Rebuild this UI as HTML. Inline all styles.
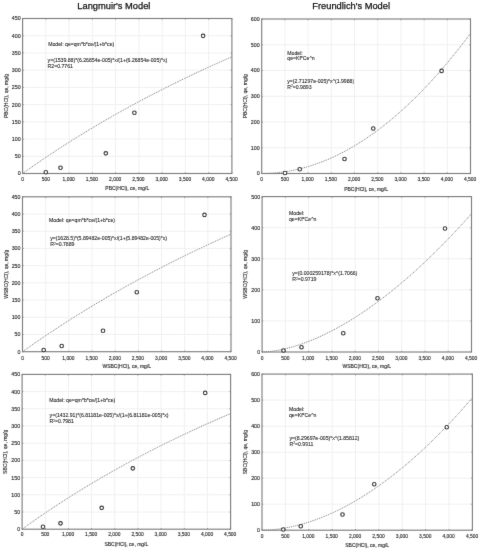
<!DOCTYPE html>
<html><head><meta charset="utf-8"><style>
html,body{margin:0;padding:0;background:#fff;width:481px;height:550px;overflow:hidden}
svg{display:block;filter:grayscale(1)}
.t{stroke:#1e1e1e;stroke-width:0.12px}
</style></head><body>
<svg width="481" height="550" viewBox="0 0 481 550" font-family='"Liberation Sans", sans-serif'>
<defs><filter id="bl" filterUnits="userSpaceOnUse" x="0" y="0" width="481" height="550"><feConvolveMatrix order="3" kernelMatrix="0.0052 0.0619 0.0052 0.0619 0.7314 0.0619 0.0052 0.0619 0.0052" edgeMode="none"/></filter></defs>
<rect width="481" height="550" fill="#fff"/>
<g filter="url(#bl)">
<text x="77.3" y="9.35" font-size="9.3" fill="#111" style="stroke:#111;stroke-width:0.25px">Langmuir's Model</text>
<text x="312.3" y="9.35" font-size="9.3" fill="#111" style="stroke:#111;stroke-width:0.25px">Freundlich's Model</text>
<g stroke="#f0f0f0" stroke-width="1"><line x1="45.86" y1="18.5" x2="45.86" y2="173.5"/><line x1="69.11" y1="18.5" x2="69.11" y2="173.5"/><line x1="92.37" y1="18.5" x2="92.37" y2="173.5"/><line x1="115.62" y1="18.5" x2="115.62" y2="173.5"/><line x1="138.88" y1="18.5" x2="138.88" y2="173.5"/><line x1="162.13" y1="18.5" x2="162.13" y2="173.5"/><line x1="185.39" y1="18.5" x2="185.39" y2="173.5"/><line x1="208.64" y1="18.5" x2="208.64" y2="173.5"/><line x1="22.6" y1="156.28" x2="231.9" y2="156.28"/><line x1="22.6" y1="139.06" x2="231.9" y2="139.06"/><line x1="22.6" y1="121.83" x2="231.9" y2="121.83"/><line x1="22.6" y1="104.61" x2="231.9" y2="104.61"/><line x1="22.6" y1="87.39" x2="231.9" y2="87.39"/><line x1="22.6" y1="70.17" x2="231.9" y2="70.17"/><line x1="22.6" y1="52.94" x2="231.9" y2="52.94"/><line x1="22.6" y1="35.72" x2="231.9" y2="35.72"/></g>
<polyline points="22.6,173.5 24.34,172.26 26.09,171.02 27.83,169.79 29.58,168.56 31.32,167.34 33.06,166.12 34.81,164.91 36.55,163.71 38.3,162.51 40.04,161.32 41.79,160.13 43.53,158.95 45.27,157.77 47.02,156.6 48.76,155.43 50.51,154.27 52.25,153.12 54,151.97 55.74,150.82 57.48,149.68 59.23,148.55 60.97,147.42 62.72,146.29 64.46,145.17 66.2,144.06 67.95,142.95 69.69,141.84 71.44,140.74 73.18,139.65 74.93,138.56 76.67,137.47 78.41,136.39 80.16,135.32 81.9,134.25 83.65,133.18 85.39,132.12 87.13,131.06 88.88,130.01 90.62,128.96 92.37,127.91 94.11,126.87 95.85,125.84 97.6,124.81 99.34,123.78 101.09,122.76 102.83,121.74 104.58,120.73 106.32,119.72 108.06,118.72 109.81,117.72 111.55,116.72 113.3,115.73 115.04,114.74 116.78,113.76 118.53,112.78 120.27,111.8 122.02,110.83 123.76,109.86 125.51,108.9 127.25,107.94 128.99,106.98 130.74,106.03 132.48,105.08 134.23,104.14 135.97,103.2 137.72,102.26 139.46,101.33 141.2,100.4 142.95,99.48 144.69,98.55 146.44,97.64 148.18,96.72 149.92,95.81 151.67,94.91 153.41,94 155.16,93.1 156.9,92.21 158.64,91.32 160.39,90.43 162.13,89.54 163.88,88.66 165.62,87.78 167.37,86.91 169.11,86.04 170.85,85.17 172.6,84.31 174.34,83.44 176.09,82.59 177.83,81.73 179.57,80.88 181.32,80.03 183.06,79.19 184.81,78.35 186.55,77.51 188.3,76.67 190.04,75.84 191.78,75.01 193.53,74.19 195.27,73.37 197.02,72.55 198.76,71.73 200.5,70.92 202.25,70.11 203.99,69.3 205.74,68.5 207.48,67.7 209.23,66.9 210.97,66.11 212.71,65.32 214.46,64.53 216.2,63.74 217.95,62.96 219.69,62.18 221.44,61.4 223.18,60.63 224.92,59.86 226.67,59.09 228.41,58.32 230.16,57.56 231.9,56.8" fill="none" stroke="#6a6a6a" stroke-width="0.9" stroke-dasharray="1 0.95"/>
<rect x="22.6" y="18.5" width="209.3" height="155" fill="none" stroke="#808080" stroke-width="1.15"/>
<g stroke="#808080" stroke-width="0.8"><line x1="22.6" y1="173.5" x2="22.6" y2="172.3"/><line x1="22.6" y1="18.5" x2="22.6" y2="19.7"/><line x1="45.86" y1="173.5" x2="45.86" y2="172.3"/><line x1="45.86" y1="18.5" x2="45.86" y2="19.7"/><line x1="69.11" y1="173.5" x2="69.11" y2="172.3"/><line x1="69.11" y1="18.5" x2="69.11" y2="19.7"/><line x1="92.37" y1="173.5" x2="92.37" y2="172.3"/><line x1="92.37" y1="18.5" x2="92.37" y2="19.7"/><line x1="115.62" y1="173.5" x2="115.62" y2="172.3"/><line x1="115.62" y1="18.5" x2="115.62" y2="19.7"/><line x1="138.88" y1="173.5" x2="138.88" y2="172.3"/><line x1="138.88" y1="18.5" x2="138.88" y2="19.7"/><line x1="162.13" y1="173.5" x2="162.13" y2="172.3"/><line x1="162.13" y1="18.5" x2="162.13" y2="19.7"/><line x1="185.39" y1="173.5" x2="185.39" y2="172.3"/><line x1="185.39" y1="18.5" x2="185.39" y2="19.7"/><line x1="208.64" y1="173.5" x2="208.64" y2="172.3"/><line x1="208.64" y1="18.5" x2="208.64" y2="19.7"/><line x1="231.9" y1="173.5" x2="231.9" y2="172.3"/><line x1="231.9" y1="18.5" x2="231.9" y2="19.7"/><line x1="22.6" y1="173.5" x2="23.8" y2="173.5"/><line x1="231.9" y1="173.5" x2="230.7" y2="173.5"/><line x1="22.6" y1="156.28" x2="23.8" y2="156.28"/><line x1="231.9" y1="156.28" x2="230.7" y2="156.28"/><line x1="22.6" y1="139.06" x2="23.8" y2="139.06"/><line x1="231.9" y1="139.06" x2="230.7" y2="139.06"/><line x1="22.6" y1="121.83" x2="23.8" y2="121.83"/><line x1="231.9" y1="121.83" x2="230.7" y2="121.83"/><line x1="22.6" y1="104.61" x2="23.8" y2="104.61"/><line x1="231.9" y1="104.61" x2="230.7" y2="104.61"/><line x1="22.6" y1="87.39" x2="23.8" y2="87.39"/><line x1="231.9" y1="87.39" x2="230.7" y2="87.39"/><line x1="22.6" y1="70.17" x2="23.8" y2="70.17"/><line x1="231.9" y1="70.17" x2="230.7" y2="70.17"/><line x1="22.6" y1="52.94" x2="23.8" y2="52.94"/><line x1="231.9" y1="52.94" x2="230.7" y2="52.94"/><line x1="22.6" y1="35.72" x2="23.8" y2="35.72"/><line x1="231.9" y1="35.72" x2="230.7" y2="35.72"/><line x1="22.6" y1="18.5" x2="23.8" y2="18.5"/><line x1="231.9" y1="18.5" x2="230.7" y2="18.5"/></g>
<g fill="#fff" stroke="#2a2a2a" stroke-width="1.15"><circle cx="45.8" cy="172.2" r="1.75"/><circle cx="60.5" cy="167.7" r="1.75"/><circle cx="105.8" cy="153.3" r="1.75"/><circle cx="134.4" cy="112.7" r="1.75"/><circle cx="203.1" cy="35.8" r="1.75"/></g>
<g class="t" font-size="5.3" fill="#1e1e1e" text-anchor="end"><text x="20.6" y="175.4">0</text><text x="20.6" y="158.18">50</text><text x="20.6" y="140.96">100</text><text x="20.6" y="123.73">150</text><text x="20.6" y="106.51">200</text><text x="20.6" y="89.29">250</text><text x="20.6" y="72.07">300</text><text x="20.6" y="54.84">350</text><text x="20.6" y="37.62">400</text><text x="20.6" y="20.4">450</text></g>
<g class="t" font-size="4.9" fill="#1e1e1e" text-anchor="middle"><text x="22.6" y="180.6">0</text><text x="45.86" y="180.6">500</text><text x="68.71" y="180.6">1,000</text><text x="91.97" y="180.6">1,500</text><text x="115.22" y="180.6">2,000</text><text x="138.48" y="180.6">2,500</text><text x="161.73" y="180.6">3,000</text><text x="184.99" y="180.6">3,500</text><text x="208.24" y="180.6">4,000</text><text x="231.5" y="180.6">4,500</text></g>
<text x="127.25" y="190.05" class="t" font-size="5" fill="#1e1e1e" text-anchor="middle">PBC(HCl), ce, mg/L</text>
<text transform="translate(7.6,96) rotate(-90)" class="t" font-size="5" fill="#1e1e1e" text-anchor="middle">PBC(HCl), qe, mg/g</text>
<g font-size="5.15" fill="#262626" style="stroke:#262626;stroke-width:0.1px"><text x="48.2" y="46.3">Model: qe=qm*b*ce/(1+b*ce)</text><text x="47.6" y="62.1">y=(1539.88)*(6.26854e-005)*x/(1+(6.26854e-005)*x)</text><text x="47.6" y="67.6">R2=0.7761</text></g>
<g stroke="#f0f0f0" stroke-width="1"><line x1="45.67" y1="196.8" x2="45.67" y2="351.7"/><line x1="68.83" y1="196.8" x2="68.83" y2="351.7"/><line x1="92" y1="196.8" x2="92" y2="351.7"/><line x1="115.17" y1="196.8" x2="115.17" y2="351.7"/><line x1="138.33" y1="196.8" x2="138.33" y2="351.7"/><line x1="161.5" y1="196.8" x2="161.5" y2="351.7"/><line x1="184.67" y1="196.8" x2="184.67" y2="351.7"/><line x1="207.83" y1="196.8" x2="207.83" y2="351.7"/><line x1="22.5" y1="334.49" x2="231" y2="334.49"/><line x1="22.5" y1="317.28" x2="231" y2="317.28"/><line x1="22.5" y1="300.07" x2="231" y2="300.07"/><line x1="22.5" y1="282.86" x2="231" y2="282.86"/><line x1="22.5" y1="265.64" x2="231" y2="265.64"/><line x1="22.5" y1="248.43" x2="231" y2="248.43"/><line x1="22.5" y1="231.22" x2="231" y2="231.22"/><line x1="22.5" y1="214.01" x2="231" y2="214.01"/></g>
<polyline points="22.5,351.7 24.24,350.46 25.98,349.23 27.71,348.01 29.45,346.79 31.19,345.57 32.92,344.36 34.66,343.16 36.4,341.96 38.14,340.77 39.88,339.58 41.61,338.39 43.35,337.21 45.09,336.04 46.83,334.87 48.56,333.71 50.3,332.55 52.04,331.4 53.77,330.25 55.51,329.1 57.25,327.97 58.99,326.83 60.73,325.7 62.46,324.58 64.2,323.46 65.94,322.34 67.67,321.23 69.41,320.13 71.15,319.03 72.89,317.93 74.62,316.84 76.36,315.75 78.1,314.67 79.84,313.59 81.58,312.51 83.31,311.44 85.05,310.38 86.79,309.32 88.53,308.26 90.26,307.21 92,306.16 93.74,305.12 95.47,304.08 97.21,303.04 98.95,302.01 100.69,300.98 102.42,299.96 104.16,298.94 105.9,297.93 107.64,296.92 109.38,295.91 111.11,294.91 112.85,293.91 114.59,292.91 116.33,291.92 118.06,290.93 119.8,289.95 121.54,288.97 123.28,288 125.01,287.02 126.75,286.06 128.49,285.09 130.22,284.13 131.96,283.18 133.7,282.22 135.44,281.27 137.18,280.33 138.91,279.39 140.65,278.45 142.39,277.51 144.12,276.58 145.86,275.65 147.6,274.73 149.34,273.81 151.07,272.89 152.81,271.98 154.55,271.07 156.29,270.16 158.03,269.26 159.76,268.36 161.5,267.46 163.24,266.57 164.97,265.68 166.71,264.79 168.45,263.91 170.19,263.03 171.93,262.16 173.66,261.28 175.4,260.41 177.14,259.55 178.88,258.68 180.61,257.82 182.35,256.96 184.09,256.11 185.82,255.26 187.56,254.41 189.3,253.57 191.04,252.72 192.78,251.89 194.51,251.05 196.25,250.22 197.99,249.39 199.72,248.56 201.46,247.74 203.2,246.92 204.94,246.1 206.68,245.28 208.41,244.47 210.15,243.66 211.89,242.86 213.62,242.05 215.36,241.25 217.1,240.46 218.84,239.66 220.57,238.87 222.31,238.08 224.05,237.29 225.79,236.51 227.53,235.73 229.26,234.95 231,234.18" fill="none" stroke="#6a6a6a" stroke-width="0.9" stroke-dasharray="1 0.95"/>
<rect x="22.5" y="196.8" width="208.5" height="154.9" fill="none" stroke="#808080" stroke-width="1.15"/>
<g stroke="#808080" stroke-width="0.8"><line x1="22.5" y1="351.7" x2="22.5" y2="350.5"/><line x1="22.5" y1="196.8" x2="22.5" y2="198"/><line x1="45.67" y1="351.7" x2="45.67" y2="350.5"/><line x1="45.67" y1="196.8" x2="45.67" y2="198"/><line x1="68.83" y1="351.7" x2="68.83" y2="350.5"/><line x1="68.83" y1="196.8" x2="68.83" y2="198"/><line x1="92" y1="351.7" x2="92" y2="350.5"/><line x1="92" y1="196.8" x2="92" y2="198"/><line x1="115.17" y1="351.7" x2="115.17" y2="350.5"/><line x1="115.17" y1="196.8" x2="115.17" y2="198"/><line x1="138.33" y1="351.7" x2="138.33" y2="350.5"/><line x1="138.33" y1="196.8" x2="138.33" y2="198"/><line x1="161.5" y1="351.7" x2="161.5" y2="350.5"/><line x1="161.5" y1="196.8" x2="161.5" y2="198"/><line x1="184.67" y1="351.7" x2="184.67" y2="350.5"/><line x1="184.67" y1="196.8" x2="184.67" y2="198"/><line x1="207.83" y1="351.7" x2="207.83" y2="350.5"/><line x1="207.83" y1="196.8" x2="207.83" y2="198"/><line x1="231" y1="351.7" x2="231" y2="350.5"/><line x1="231" y1="196.8" x2="231" y2="198"/><line x1="22.5" y1="351.7" x2="23.7" y2="351.7"/><line x1="231" y1="351.7" x2="229.8" y2="351.7"/><line x1="22.5" y1="334.49" x2="23.7" y2="334.49"/><line x1="231" y1="334.49" x2="229.8" y2="334.49"/><line x1="22.5" y1="317.28" x2="23.7" y2="317.28"/><line x1="231" y1="317.28" x2="229.8" y2="317.28"/><line x1="22.5" y1="300.07" x2="23.7" y2="300.07"/><line x1="231" y1="300.07" x2="229.8" y2="300.07"/><line x1="22.5" y1="282.86" x2="23.7" y2="282.86"/><line x1="231" y1="282.86" x2="229.8" y2="282.86"/><line x1="22.5" y1="265.64" x2="23.7" y2="265.64"/><line x1="231" y1="265.64" x2="229.8" y2="265.64"/><line x1="22.5" y1="248.43" x2="23.7" y2="248.43"/><line x1="231" y1="248.43" x2="229.8" y2="248.43"/><line x1="22.5" y1="231.22" x2="23.7" y2="231.22"/><line x1="231" y1="231.22" x2="229.8" y2="231.22"/><line x1="22.5" y1="214.01" x2="23.7" y2="214.01"/><line x1="231" y1="214.01" x2="229.8" y2="214.01"/><line x1="22.5" y1="196.8" x2="23.7" y2="196.8"/><line x1="231" y1="196.8" x2="229.8" y2="196.8"/></g>
<g fill="#fff" stroke="#2a2a2a" stroke-width="1.15"><circle cx="43.7" cy="350" r="1.75"/><circle cx="61.7" cy="346" r="1.75"/><circle cx="103" cy="330.7" r="1.75"/><circle cx="136.8" cy="292.2" r="1.75"/><circle cx="204.5" cy="214.9" r="1.75"/></g>
<g class="t" font-size="5.3" fill="#1e1e1e" text-anchor="end"><text x="20.5" y="353.6">0</text><text x="20.5" y="336.39">50</text><text x="20.5" y="319.18">100</text><text x="20.5" y="301.97">150</text><text x="20.5" y="284.76">200</text><text x="20.5" y="267.54">250</text><text x="20.5" y="250.33">300</text><text x="20.5" y="233.12">350</text><text x="20.5" y="215.91">400</text><text x="20.5" y="198.7">450</text></g>
<g class="t" font-size="4.9" fill="#1e1e1e" text-anchor="middle"><text x="22.5" y="359.7">0</text><text x="45.67" y="359.7">500</text><text x="68.43" y="359.7">1,000</text><text x="91.6" y="359.7">1,500</text><text x="114.77" y="359.7">2,000</text><text x="137.93" y="359.7">2,500</text><text x="161.1" y="359.7">3,000</text><text x="184.27" y="359.7">3,500</text><text x="207.43" y="359.7">4,000</text><text x="230.6" y="359.7">4,500</text></g>
<text x="126.75" y="368.3" class="t" font-size="5" fill="#1e1e1e" text-anchor="middle">WSBC(HCl), ce, mg/L</text>
<text transform="translate(7.5,274.25) rotate(-90)" class="t" font-size="5" fill="#1e1e1e" text-anchor="middle">WSBC(HCl), qe, mg/g</text>
<g font-size="5.15" fill="#262626" style="stroke:#262626;stroke-width:0.1px"><text x="49.0" y="222.3">Model: qe=qm*b*ce/(1+b*ce)</text><text x="50.2" y="240.3">y=(1628.5)*(5.89482e-005)*x/(1+(5.89482e-005)*x)</text><text x="50.2" y="246.4">R<tspan font-size="3.2" dy="-1.6">2</tspan><tspan dy="1.6">=</tspan>0.7889</text></g>
<g stroke="#f0f0f0" stroke-width="1"><line x1="45.27" y1="374.4" x2="45.27" y2="529.2"/><line x1="68.43" y1="374.4" x2="68.43" y2="529.2"/><line x1="91.6" y1="374.4" x2="91.6" y2="529.2"/><line x1="114.77" y1="374.4" x2="114.77" y2="529.2"/><line x1="137.93" y1="374.4" x2="137.93" y2="529.2"/><line x1="161.1" y1="374.4" x2="161.1" y2="529.2"/><line x1="184.27" y1="374.4" x2="184.27" y2="529.2"/><line x1="207.43" y1="374.4" x2="207.43" y2="529.2"/><line x1="22.1" y1="512" x2="230.6" y2="512"/><line x1="22.1" y1="494.8" x2="230.6" y2="494.8"/><line x1="22.1" y1="477.6" x2="230.6" y2="477.6"/><line x1="22.1" y1="460.4" x2="230.6" y2="460.4"/><line x1="22.1" y1="443.2" x2="230.6" y2="443.2"/><line x1="22.1" y1="426" x2="230.6" y2="426"/><line x1="22.1" y1="408.8" x2="230.6" y2="408.8"/><line x1="22.1" y1="391.6" x2="230.6" y2="391.6"/></g>
<polyline points="22.1,529.2 23.84,527.94 25.58,526.69 27.31,525.45 29.05,524.21 30.79,522.98 32.53,521.76 34.26,520.54 36,519.33 37.74,518.12 39.48,516.92 41.21,515.73 42.95,514.54 44.69,513.36 46.42,512.18 48.16,511.01 49.9,509.84 51.64,508.69 53.38,507.53 55.11,506.38 56.85,505.24 58.59,504.1 60.33,502.97 62.06,501.85 63.8,500.73 65.54,499.61 67.28,498.5 69.01,497.4 70.75,496.3 72.49,495.2 74.22,494.11 75.96,493.03 77.7,491.95 79.44,490.88 81.18,489.81 82.91,488.75 84.65,487.69 86.39,486.64 88.12,485.59 89.86,484.54 91.6,483.5 93.34,482.47 95.07,481.44 96.81,480.42 98.55,479.4 100.29,478.38 102.03,477.37 103.76,476.36 105.5,475.36 107.24,474.37 108.97,473.37 110.71,472.39 112.45,471.4 114.19,470.42 115.93,469.45 117.66,468.48 119.4,467.51 121.14,466.55 122.88,465.59 124.61,464.64 126.35,463.69 128.09,462.75 129.82,461.81 131.56,460.87 133.3,459.94 135.04,459.01 136.78,458.09 138.51,457.17 140.25,456.25 141.99,455.34 143.72,454.43 145.46,453.53 147.2,452.63 148.94,451.73 150.67,450.84 152.41,449.95 154.15,449.06 155.89,448.18 157.62,447.3 159.36,446.43 161.1,445.56 162.84,444.7 164.57,443.83 166.31,442.97 168.05,442.12 169.79,441.27 171.53,440.42 173.26,439.57 175,438.73 176.74,437.89 178.47,437.06 180.21,436.23 181.95,435.4 183.69,434.58 185.42,433.76 187.16,432.94 188.9,432.13 190.64,431.32 192.38,430.51 194.11,429.71 195.85,428.91 197.59,428.11 199.32,427.31 201.06,426.52 202.8,425.74 204.54,424.95 206.28,424.17 208.01,423.39 209.75,422.62 211.49,421.85 213.22,421.08 214.96,420.31 216.7,419.55 218.44,418.79 220.17,418.03 221.91,417.28 223.65,416.53 225.39,415.78 227.12,415.03 228.86,414.29 230.6,413.55" fill="none" stroke="#6a6a6a" stroke-width="0.9" stroke-dasharray="1 0.95"/>
<rect x="22.1" y="374.4" width="208.5" height="154.8" fill="none" stroke="#808080" stroke-width="1.15"/>
<g stroke="#808080" stroke-width="0.8"><line x1="22.1" y1="529.2" x2="22.1" y2="528"/><line x1="22.1" y1="374.4" x2="22.1" y2="375.6"/><line x1="45.27" y1="529.2" x2="45.27" y2="528"/><line x1="45.27" y1="374.4" x2="45.27" y2="375.6"/><line x1="68.43" y1="529.2" x2="68.43" y2="528"/><line x1="68.43" y1="374.4" x2="68.43" y2="375.6"/><line x1="91.6" y1="529.2" x2="91.6" y2="528"/><line x1="91.6" y1="374.4" x2="91.6" y2="375.6"/><line x1="114.77" y1="529.2" x2="114.77" y2="528"/><line x1="114.77" y1="374.4" x2="114.77" y2="375.6"/><line x1="137.93" y1="529.2" x2="137.93" y2="528"/><line x1="137.93" y1="374.4" x2="137.93" y2="375.6"/><line x1="161.1" y1="529.2" x2="161.1" y2="528"/><line x1="161.1" y1="374.4" x2="161.1" y2="375.6"/><line x1="184.27" y1="529.2" x2="184.27" y2="528"/><line x1="184.27" y1="374.4" x2="184.27" y2="375.6"/><line x1="207.43" y1="529.2" x2="207.43" y2="528"/><line x1="207.43" y1="374.4" x2="207.43" y2="375.6"/><line x1="230.6" y1="529.2" x2="230.6" y2="528"/><line x1="230.6" y1="374.4" x2="230.6" y2="375.6"/><line x1="22.1" y1="529.2" x2="23.3" y2="529.2"/><line x1="230.6" y1="529.2" x2="229.4" y2="529.2"/><line x1="22.1" y1="512" x2="23.3" y2="512"/><line x1="230.6" y1="512" x2="229.4" y2="512"/><line x1="22.1" y1="494.8" x2="23.3" y2="494.8"/><line x1="230.6" y1="494.8" x2="229.4" y2="494.8"/><line x1="22.1" y1="477.6" x2="23.3" y2="477.6"/><line x1="230.6" y1="477.6" x2="229.4" y2="477.6"/><line x1="22.1" y1="460.4" x2="23.3" y2="460.4"/><line x1="230.6" y1="460.4" x2="229.4" y2="460.4"/><line x1="22.1" y1="443.2" x2="23.3" y2="443.2"/><line x1="230.6" y1="443.2" x2="229.4" y2="443.2"/><line x1="22.1" y1="426" x2="23.3" y2="426"/><line x1="230.6" y1="426" x2="229.4" y2="426"/><line x1="22.1" y1="408.8" x2="23.3" y2="408.8"/><line x1="230.6" y1="408.8" x2="229.4" y2="408.8"/><line x1="22.1" y1="391.6" x2="23.3" y2="391.6"/><line x1="230.6" y1="391.6" x2="229.4" y2="391.6"/><line x1="22.1" y1="374.4" x2="23.3" y2="374.4"/><line x1="230.6" y1="374.4" x2="229.4" y2="374.4"/></g>
<g fill="#fff" stroke="#2a2a2a" stroke-width="1.15"><circle cx="43" cy="526.7" r="1.75"/><circle cx="60.5" cy="523.3" r="1.75"/><circle cx="101.7" cy="507.8" r="1.75"/><circle cx="132.8" cy="468.3" r="1.75"/><circle cx="205.2" cy="392.9" r="1.75"/></g>
<g class="t" font-size="5.3" fill="#1e1e1e" text-anchor="end"><text x="20.1" y="531.1">0</text><text x="20.1" y="513.9">50</text><text x="20.1" y="496.7">100</text><text x="20.1" y="479.5">150</text><text x="20.1" y="462.3">200</text><text x="20.1" y="445.1">250</text><text x="20.1" y="427.9">300</text><text x="20.1" y="410.7">350</text><text x="20.1" y="393.5">400</text><text x="20.1" y="376.3">450</text></g>
<g class="t" font-size="4.9" fill="#1e1e1e" text-anchor="middle"><text x="22.1" y="536.15">0</text><text x="45.27" y="536.15">500</text><text x="68.03" y="536.15">1,000</text><text x="91.2" y="536.15">1,500</text><text x="114.37" y="536.15">2,000</text><text x="137.53" y="536.15">2,500</text><text x="160.7" y="536.15">3,000</text><text x="183.87" y="536.15">3,500</text><text x="207.03" y="536.15">4,000</text><text x="230.2" y="536.15">4,500</text></g>
<text x="126.35" y="545.5" class="t" font-size="5" fill="#1e1e1e" text-anchor="middle">SBC(HCl), ce, mg/L</text>
<text transform="translate(7.2,451.8) rotate(-90)" class="t" font-size="5" fill="#1e1e1e" text-anchor="middle">SBC(HCl), qe, mg/g</text>
<g font-size="5.15" fill="#262626" style="stroke:#262626;stroke-width:0.1px"><text x="49.2" y="401.6">Model: qe=qm*b*ce/(1+b*ce)</text><text x="49.6" y="417.4">y=(1432.91)*(6.81181e-005)*x/(1+(6.81181e-005)*x)</text><text x="49.6" y="423.2">R<tspan font-size="3.2" dy="-1.6">2</tspan><tspan dy="1.6">=</tspan>0.7981</text></g>
<g stroke="#f0f0f0" stroke-width="1"><line x1="284.9" y1="19" x2="284.9" y2="173.5"/><line x1="308.1" y1="19" x2="308.1" y2="173.5"/><line x1="331.3" y1="19" x2="331.3" y2="173.5"/><line x1="354.5" y1="19" x2="354.5" y2="173.5"/><line x1="377.7" y1="19" x2="377.7" y2="173.5"/><line x1="400.9" y1="19" x2="400.9" y2="173.5"/><line x1="424.1" y1="19" x2="424.1" y2="173.5"/><line x1="447.3" y1="19" x2="447.3" y2="173.5"/><line x1="261.7" y1="147.75" x2="470.5" y2="147.75"/><line x1="261.7" y1="122" x2="470.5" y2="122"/><line x1="261.7" y1="96.25" x2="470.5" y2="96.25"/><line x1="261.7" y1="70.5" x2="470.5" y2="70.5"/><line x1="261.7" y1="44.75" x2="470.5" y2="44.75"/></g>
<polyline points="261.7,173.5 263.44,173.49 265.18,173.46 266.92,173.41 268.66,173.34 270.4,173.26 272.14,173.15 273.88,173.02 275.62,172.88 277.36,172.71 279.1,172.52 280.84,172.32 282.58,172.1 284.32,171.85 286.06,171.59 287.8,171.31 289.54,171 291.28,170.68 293.02,170.34 294.76,169.98 296.5,169.6 298.24,169.2 299.98,168.78 301.72,168.35 303.46,167.89 305.2,167.41 306.94,166.91 308.68,166.4 310.42,165.86 312.16,165.31 313.9,164.73 315.64,164.14 317.38,163.53 319.12,162.89 320.86,162.24 322.6,161.57 324.34,160.88 326.08,160.17 327.82,159.44 329.56,158.69 331.3,157.92 333.04,157.13 334.78,156.32 336.52,155.5 338.26,154.65 340,153.78 341.74,152.9 343.48,151.99 345.22,151.07 346.96,150.12 348.7,149.16 350.44,148.18 352.18,147.18 353.92,146.15 355.66,145.11 357.4,144.05 359.14,142.97 360.88,141.87 362.62,140.76 364.36,139.62 366.1,138.46 367.84,137.28 369.58,136.09 371.32,134.87 373.06,133.64 374.8,132.38 376.54,131.11 378.28,129.81 380.02,128.5 381.76,127.17 383.5,125.82 385.24,124.44 386.98,123.05 388.72,121.64 390.46,120.21 392.2,118.76 393.94,117.3 395.68,115.81 397.42,114.3 399.16,112.77 400.9,111.23 402.64,109.66 404.38,108.08 406.12,106.47 407.86,104.85 409.6,103.21 411.34,101.54 413.08,99.86 414.82,98.16 416.56,96.44 418.3,94.7 420.04,92.94 421.78,91.16 423.52,89.36 425.26,87.54 427,85.7 428.74,83.85 430.48,81.97 432.22,80.08 433.96,78.16 435.7,76.23 437.44,74.27 439.18,72.3 440.92,70.31 442.66,68.29 444.4,66.26 446.14,64.21 447.88,62.14 449.62,60.05 451.36,57.94 453.1,55.81 454.84,53.66 456.58,51.5 458.32,49.31 460.06,47.1 461.8,44.88 463.54,42.63 465.28,40.37 467.02,38.08 468.76,35.78 470.5,33.46" fill="none" stroke="#6a6a6a" stroke-width="0.9" stroke-dasharray="1 0.95"/>
<rect x="261.7" y="19" width="208.8" height="154.5" fill="none" stroke="#808080" stroke-width="1.15"/>
<g stroke="#808080" stroke-width="0.8"><line x1="261.7" y1="173.5" x2="261.7" y2="172.3"/><line x1="261.7" y1="19" x2="261.7" y2="20.2"/><line x1="284.9" y1="173.5" x2="284.9" y2="172.3"/><line x1="284.9" y1="19" x2="284.9" y2="20.2"/><line x1="308.1" y1="173.5" x2="308.1" y2="172.3"/><line x1="308.1" y1="19" x2="308.1" y2="20.2"/><line x1="331.3" y1="173.5" x2="331.3" y2="172.3"/><line x1="331.3" y1="19" x2="331.3" y2="20.2"/><line x1="354.5" y1="173.5" x2="354.5" y2="172.3"/><line x1="354.5" y1="19" x2="354.5" y2="20.2"/><line x1="377.7" y1="173.5" x2="377.7" y2="172.3"/><line x1="377.7" y1="19" x2="377.7" y2="20.2"/><line x1="400.9" y1="173.5" x2="400.9" y2="172.3"/><line x1="400.9" y1="19" x2="400.9" y2="20.2"/><line x1="424.1" y1="173.5" x2="424.1" y2="172.3"/><line x1="424.1" y1="19" x2="424.1" y2="20.2"/><line x1="447.3" y1="173.5" x2="447.3" y2="172.3"/><line x1="447.3" y1="19" x2="447.3" y2="20.2"/><line x1="470.5" y1="173.5" x2="470.5" y2="172.3"/><line x1="470.5" y1="19" x2="470.5" y2="20.2"/><line x1="261.7" y1="173.5" x2="262.9" y2="173.5"/><line x1="470.5" y1="173.5" x2="469.3" y2="173.5"/><line x1="261.7" y1="147.75" x2="262.9" y2="147.75"/><line x1="470.5" y1="147.75" x2="469.3" y2="147.75"/><line x1="261.7" y1="122" x2="262.9" y2="122"/><line x1="470.5" y1="122" x2="469.3" y2="122"/><line x1="261.7" y1="96.25" x2="262.9" y2="96.25"/><line x1="470.5" y1="96.25" x2="469.3" y2="96.25"/><line x1="261.7" y1="70.5" x2="262.9" y2="70.5"/><line x1="470.5" y1="70.5" x2="469.3" y2="70.5"/><line x1="261.7" y1="44.75" x2="262.9" y2="44.75"/><line x1="470.5" y1="44.75" x2="469.3" y2="44.75"/><line x1="261.7" y1="19" x2="262.9" y2="19"/><line x1="470.5" y1="19" x2="469.3" y2="19"/></g>
<g fill="#fff" stroke="#2a2a2a" stroke-width="1.15"><circle cx="285" cy="173" r="1.75"/><circle cx="299.75" cy="169.25" r="1.75"/><circle cx="344.5" cy="159" r="1.75"/><circle cx="373.25" cy="128.5" r="1.75"/><circle cx="441.6" cy="70.9" r="1.75"/></g>
<g class="t" font-size="5.3" fill="#1e1e1e" text-anchor="end"><text x="259.7" y="175.4">0</text><text x="259.7" y="149.65">100</text><text x="259.7" y="123.9">200</text><text x="259.7" y="98.15">300</text><text x="259.7" y="72.4">400</text><text x="259.7" y="46.65">500</text><text x="259.7" y="20.9">600</text></g>
<g class="t" font-size="4.9" fill="#1e1e1e" text-anchor="middle"><text x="261.7" y="181.3">0</text><text x="284.9" y="181.3">500</text><text x="307.7" y="181.3">1,000</text><text x="330.9" y="181.3">1,500</text><text x="354.1" y="181.3">2,000</text><text x="377.3" y="181.3">2,500</text><text x="400.5" y="181.3">3,000</text><text x="423.7" y="181.3">3,500</text><text x="446.9" y="181.3">4,000</text><text x="470.1" y="181.3">4,500</text></g>
<text x="366.1" y="190.55" class="t" font-size="5" fill="#1e1e1e" text-anchor="middle">PBC(HCl), ce, mg/L</text>
<text transform="translate(246.6,96.25) rotate(-90)" class="t" font-size="5" fill="#1e1e1e" text-anchor="middle">PBC(HCl), qe, mg/g</text>
<g font-size="5.15" fill="#262626" style="stroke:#262626;stroke-width:0.1px"><text x="287.3" y="54.7">Model:</text><text x="287.3" y="60.4">qe=Kf*Ce^n</text><text x="287.3" y="83.1">y=(2.71297e-005)*x^(1.9988)</text><text x="287.3" y="89.0">R<tspan font-size="3.2" dy="-1.6">2</tspan><tspan dy="1.6">=</tspan>0.9893</text></g>
<g stroke="#f0f0f0" stroke-width="1"><line x1="285.37" y1="196.6" x2="285.37" y2="352"/><line x1="308.63" y1="196.6" x2="308.63" y2="352"/><line x1="331.9" y1="196.6" x2="331.9" y2="352"/><line x1="355.17" y1="196.6" x2="355.17" y2="352"/><line x1="378.43" y1="196.6" x2="378.43" y2="352"/><line x1="401.7" y1="196.6" x2="401.7" y2="352"/><line x1="424.97" y1="196.6" x2="424.97" y2="352"/><line x1="448.23" y1="196.6" x2="448.23" y2="352"/><line x1="262.1" y1="320.92" x2="471.5" y2="320.92"/><line x1="262.1" y1="289.84" x2="471.5" y2="289.84"/><line x1="262.1" y1="258.76" x2="471.5" y2="258.76"/><line x1="262.1" y1="227.68" x2="471.5" y2="227.68"/></g>
<polyline points="262.1,352 263.85,351.96 265.59,351.87 267.34,351.74 269.08,351.58 270.83,351.39 272.57,351.17 274.31,350.92 276.06,350.64 277.81,350.34 279.55,350.01 281.3,349.66 283.04,349.28 284.79,348.89 286.53,348.47 288.28,348.02 290.02,347.56 291.77,347.08 293.51,346.57 295.25,346.05 297,345.5 298.75,344.94 300.49,344.36 302.24,343.75 303.98,343.13 305.73,342.49 307.47,341.83 309.22,341.16 310.96,340.46 312.71,339.75 314.45,339.02 316.19,338.28 317.94,337.51 319.69,336.73 321.43,335.93 323.18,335.12 324.92,334.29 326.67,333.44 328.41,332.57 330.16,331.69 331.9,330.8 333.64,329.88 335.39,328.96 337.13,328.01 338.88,327.05 340.62,326.08 342.37,325.09 344.12,324.08 345.86,323.06 347.61,322.02 349.35,320.97 351.1,319.9 352.84,318.82 354.59,317.73 356.33,316.61 358.07,315.49 359.82,314.35 361.56,313.19 363.31,312.03 365.06,310.84 366.8,309.64 368.55,308.43 370.29,307.21 372.04,305.97 373.78,304.71 375.52,303.44 377.27,302.16 379.02,300.87 380.76,299.56 382.5,298.23 384.25,296.9 386,295.55 387.74,294.18 389.49,292.81 391.23,291.42 392.98,290.01 394.72,288.6 396.47,287.17 398.21,285.72 399.95,284.27 401.7,282.8 403.44,281.31 405.19,279.82 406.94,278.31 408.68,276.79 410.42,275.25 412.17,273.7 413.91,272.14 415.66,270.57 417.4,268.99 419.15,267.39 420.89,265.78 422.64,264.15 424.38,262.52 426.13,260.87 427.88,259.21 429.62,257.54 431.37,255.85 433.11,254.15 434.86,252.44 436.6,250.72 438.35,248.99 440.09,247.24 441.84,245.48 443.58,243.71 445.32,241.93 447.07,240.13 448.81,238.32 450.56,236.51 452.31,234.67 454.05,232.83 455.79,230.98 457.54,229.11 459.28,227.23 461.03,225.34 462.77,223.44 464.52,221.53 466.26,219.6 468.01,217.66 469.75,215.71 471.5,213.75" fill="none" stroke="#6a6a6a" stroke-width="0.9" stroke-dasharray="1 0.95"/>
<rect x="262.1" y="196.6" width="209.4" height="155.4" fill="none" stroke="#808080" stroke-width="1.15"/>
<g stroke="#808080" stroke-width="0.8"><line x1="262.1" y1="352" x2="262.1" y2="350.8"/><line x1="262.1" y1="196.6" x2="262.1" y2="197.8"/><line x1="285.37" y1="352" x2="285.37" y2="350.8"/><line x1="285.37" y1="196.6" x2="285.37" y2="197.8"/><line x1="308.63" y1="352" x2="308.63" y2="350.8"/><line x1="308.63" y1="196.6" x2="308.63" y2="197.8"/><line x1="331.9" y1="352" x2="331.9" y2="350.8"/><line x1="331.9" y1="196.6" x2="331.9" y2="197.8"/><line x1="355.17" y1="352" x2="355.17" y2="350.8"/><line x1="355.17" y1="196.6" x2="355.17" y2="197.8"/><line x1="378.43" y1="352" x2="378.43" y2="350.8"/><line x1="378.43" y1="196.6" x2="378.43" y2="197.8"/><line x1="401.7" y1="352" x2="401.7" y2="350.8"/><line x1="401.7" y1="196.6" x2="401.7" y2="197.8"/><line x1="424.97" y1="352" x2="424.97" y2="350.8"/><line x1="424.97" y1="196.6" x2="424.97" y2="197.8"/><line x1="448.23" y1="352" x2="448.23" y2="350.8"/><line x1="448.23" y1="196.6" x2="448.23" y2="197.8"/><line x1="471.5" y1="352" x2="471.5" y2="350.8"/><line x1="471.5" y1="196.6" x2="471.5" y2="197.8"/><line x1="262.1" y1="352" x2="263.3" y2="352"/><line x1="471.5" y1="352" x2="470.3" y2="352"/><line x1="262.1" y1="320.92" x2="263.3" y2="320.92"/><line x1="471.5" y1="320.92" x2="470.3" y2="320.92"/><line x1="262.1" y1="289.84" x2="263.3" y2="289.84"/><line x1="471.5" y1="289.84" x2="470.3" y2="289.84"/><line x1="262.1" y1="258.76" x2="263.3" y2="258.76"/><line x1="471.5" y1="258.76" x2="470.3" y2="258.76"/><line x1="262.1" y1="227.68" x2="263.3" y2="227.68"/><line x1="471.5" y1="227.68" x2="470.3" y2="227.68"/><line x1="262.1" y1="196.6" x2="263.3" y2="196.6"/><line x1="471.5" y1="196.6" x2="470.3" y2="196.6"/></g>
<g fill="#fff" stroke="#2a2a2a" stroke-width="1.15"><circle cx="283.5" cy="350.5" r="1.75"/><circle cx="301.5" cy="347.25" r="1.75"/><circle cx="343.25" cy="333.25" r="1.75"/><circle cx="377.5" cy="298.25" r="1.75"/><circle cx="445" cy="228.5" r="1.75"/></g>
<g class="t" font-size="5.3" fill="#1e1e1e" text-anchor="end"><text x="260.1" y="353.9">0</text><text x="260.1" y="322.82">100</text><text x="260.1" y="291.74">200</text><text x="260.1" y="260.66">300</text><text x="260.1" y="229.58">400</text><text x="260.1" y="198.5">500</text></g>
<g class="t" font-size="4.9" fill="#1e1e1e" text-anchor="middle"><text x="262.1" y="359.65">0</text><text x="285.37" y="359.65">500</text><text x="308.23" y="359.65">1,000</text><text x="331.5" y="359.65">1,500</text><text x="354.77" y="359.65">2,000</text><text x="378.03" y="359.65">2,500</text><text x="401.3" y="359.65">3,000</text><text x="424.57" y="359.65">3,500</text><text x="447.83" y="359.65">4,000</text><text x="471.1" y="359.65">4,500</text></g>
<text x="366.8" y="368.4" class="t" font-size="5" fill="#1e1e1e" text-anchor="middle">WSBC(HCl), ce, mg/L</text>
<text transform="translate(246.7,274.3) rotate(-90)" class="t" font-size="5" fill="#1e1e1e" text-anchor="middle">WSBC(HCl), qe, mg/g</text>
<g font-size="5.15" fill="#262626" style="stroke:#262626;stroke-width:0.1px"><text x="289.0" y="214.5">Model:</text><text x="289.0" y="220.9">qe=Kf*Ce^n</text><text x="292.2" y="275.2">y=(0.000259178)*x^(1.7066)</text><text x="292.2" y="281.3">R<tspan font-size="3.2" dy="-1.6">2</tspan><tspan dy="1.6">=</tspan>0.9719</text></g>
<g stroke="#f0f0f0" stroke-width="1"><line x1="285.38" y1="374.1" x2="285.38" y2="530.2"/><line x1="308.76" y1="374.1" x2="308.76" y2="530.2"/><line x1="332.13" y1="374.1" x2="332.13" y2="530.2"/><line x1="355.51" y1="374.1" x2="355.51" y2="530.2"/><line x1="378.89" y1="374.1" x2="378.89" y2="530.2"/><line x1="402.27" y1="374.1" x2="402.27" y2="530.2"/><line x1="425.64" y1="374.1" x2="425.64" y2="530.2"/><line x1="449.02" y1="374.1" x2="449.02" y2="530.2"/><line x1="262" y1="504.18" x2="472.4" y2="504.18"/><line x1="262" y1="478.17" x2="472.4" y2="478.17"/><line x1="262" y1="452.15" x2="472.4" y2="452.15"/><line x1="262" y1="426.13" x2="472.4" y2="426.13"/><line x1="262" y1="400.12" x2="472.4" y2="400.12"/></g>
<polyline points="262,530.2 263.75,530.18 265.51,530.13 267.26,530.06 269.01,529.96 270.77,529.84 272.52,529.69 274.27,529.53 276.03,529.34 277.78,529.12 279.53,528.89 281.29,528.64 283.04,528.36 284.79,528.07 286.55,527.75 288.3,527.42 290.05,527.06 291.81,526.69 293.56,526.3 295.31,525.88 297.07,525.45 298.82,525 300.57,524.53 302.33,524.05 304.08,523.54 305.83,523.01 307.59,522.47 309.34,521.91 311.09,521.33 312.85,520.73 314.6,520.12 316.35,519.48 318.11,518.83 319.86,518.16 321.61,517.48 323.37,516.77 325.12,516.05 326.87,515.31 328.63,514.56 330.38,513.78 332.13,512.99 333.89,512.18 335.64,511.36 337.39,510.52 339.15,509.66 340.9,508.78 342.65,507.89 344.41,506.98 346.16,506.05 347.91,505.11 349.67,504.15 351.42,503.17 353.17,502.18 354.93,501.17 356.68,500.15 358.43,499.1 360.19,498.04 361.94,496.97 363.69,495.88 365.45,494.77 367.2,493.65 368.95,492.51 370.71,491.35 372.46,490.18 374.21,488.99 375.97,487.78 377.72,486.56 379.47,485.33 381.23,484.08 382.98,482.81 384.73,481.52 386.49,480.22 388.24,478.91 389.99,477.58 391.75,476.23 393.5,474.87 395.25,473.49 397.01,472.09 398.76,470.68 400.51,469.26 402.27,467.82 404.02,466.36 405.77,464.89 407.53,463.4 409.28,461.9 411.03,460.38 412.79,458.84 414.54,457.29 416.29,455.73 418.05,454.15 419.8,452.55 421.55,450.94 423.31,449.32 425.06,447.67 426.81,446.02 428.57,444.35 430.32,442.66 432.07,440.96 433.83,439.24 435.58,437.51 437.33,435.76 439.09,434 440.84,432.22 442.59,430.43 444.35,428.62 446.1,426.8 447.85,424.96 449.61,423.11 451.36,421.24 453.11,419.36 454.87,417.46 456.62,415.55 458.37,413.63 460.13,411.68 461.88,409.73 463.63,407.76 465.39,405.77 467.14,403.77 468.89,401.76 470.65,399.73 472.4,397.68" fill="none" stroke="#6a6a6a" stroke-width="0.9" stroke-dasharray="1 0.95"/>
<rect x="262" y="374.1" width="210.4" height="156.1" fill="none" stroke="#808080" stroke-width="1.15"/>
<g stroke="#808080" stroke-width="0.8"><line x1="262" y1="530.2" x2="262" y2="529"/><line x1="262" y1="374.1" x2="262" y2="375.3"/><line x1="285.38" y1="530.2" x2="285.38" y2="529"/><line x1="285.38" y1="374.1" x2="285.38" y2="375.3"/><line x1="308.76" y1="530.2" x2="308.76" y2="529"/><line x1="308.76" y1="374.1" x2="308.76" y2="375.3"/><line x1="332.13" y1="530.2" x2="332.13" y2="529"/><line x1="332.13" y1="374.1" x2="332.13" y2="375.3"/><line x1="355.51" y1="530.2" x2="355.51" y2="529"/><line x1="355.51" y1="374.1" x2="355.51" y2="375.3"/><line x1="378.89" y1="530.2" x2="378.89" y2="529"/><line x1="378.89" y1="374.1" x2="378.89" y2="375.3"/><line x1="402.27" y1="530.2" x2="402.27" y2="529"/><line x1="402.27" y1="374.1" x2="402.27" y2="375.3"/><line x1="425.64" y1="530.2" x2="425.64" y2="529"/><line x1="425.64" y1="374.1" x2="425.64" y2="375.3"/><line x1="449.02" y1="530.2" x2="449.02" y2="529"/><line x1="449.02" y1="374.1" x2="449.02" y2="375.3"/><line x1="472.4" y1="530.2" x2="472.4" y2="529"/><line x1="472.4" y1="374.1" x2="472.4" y2="375.3"/><line x1="262" y1="530.2" x2="263.2" y2="530.2"/><line x1="472.4" y1="530.2" x2="471.2" y2="530.2"/><line x1="262" y1="504.18" x2="263.2" y2="504.18"/><line x1="472.4" y1="504.18" x2="471.2" y2="504.18"/><line x1="262" y1="478.17" x2="263.2" y2="478.17"/><line x1="472.4" y1="478.17" x2="471.2" y2="478.17"/><line x1="262" y1="452.15" x2="263.2" y2="452.15"/><line x1="472.4" y1="452.15" x2="471.2" y2="452.15"/><line x1="262" y1="426.13" x2="263.2" y2="426.13"/><line x1="472.4" y1="426.13" x2="471.2" y2="426.13"/><line x1="262" y1="400.12" x2="263.2" y2="400.12"/><line x1="472.4" y1="400.12" x2="471.2" y2="400.12"/><line x1="262" y1="374.1" x2="263.2" y2="374.1"/><line x1="472.4" y1="374.1" x2="471.2" y2="374.1"/></g>
<g fill="#fff" stroke="#2a2a2a" stroke-width="1.15"><circle cx="283.25" cy="529.5" r="1.75"/><circle cx="300.75" cy="526.25" r="1.75"/><circle cx="342.5" cy="514.5" r="1.75"/><circle cx="374.25" cy="484.25" r="1.75"/><circle cx="446.75" cy="427.2" r="1.75"/></g>
<g class="t" font-size="5.3" fill="#1e1e1e" text-anchor="end"><text x="260" y="532.1">0</text><text x="260" y="506.08">100</text><text x="260" y="480.07">200</text><text x="260" y="454.05">300</text><text x="260" y="428.03">400</text><text x="260" y="402.02">500</text><text x="260" y="376">600</text></g>
<g class="t" font-size="4.9" fill="#1e1e1e" text-anchor="middle"><text x="262" y="537.6">0</text><text x="285.38" y="537.6">500</text><text x="308.36" y="537.6">1,000</text><text x="331.73" y="537.6">1,500</text><text x="355.11" y="537.6">2,000</text><text x="378.49" y="537.6">2,500</text><text x="401.87" y="537.6">3,000</text><text x="425.24" y="537.6">3,500</text><text x="448.62" y="537.6">4,000</text><text x="472" y="537.6">4,500</text></g>
<text x="367.2" y="547" class="t" font-size="5" fill="#1e1e1e" text-anchor="middle">SBC(HCl), ce, mg/L</text>
<text transform="translate(246.6,452.15) rotate(-90)" class="t" font-size="5" fill="#1e1e1e" text-anchor="middle">SBC(HCl), qe, mg/g</text>
<g font-size="5.15" fill="#262626" style="stroke:#262626;stroke-width:0.1px"><text x="289.0" y="410.5">Model:</text><text x="289.0" y="416.6">qe=Kf*Ce^n</text><text x="289.5" y="439.9">y=(8.29697e-005)*x^(1.85812)</text><text x="289.5" y="445.6">R<tspan font-size="3.2" dy="-1.6">2</tspan><tspan dy="1.6">=</tspan>0.9911</text></g>
</g></svg>
</body></html>
